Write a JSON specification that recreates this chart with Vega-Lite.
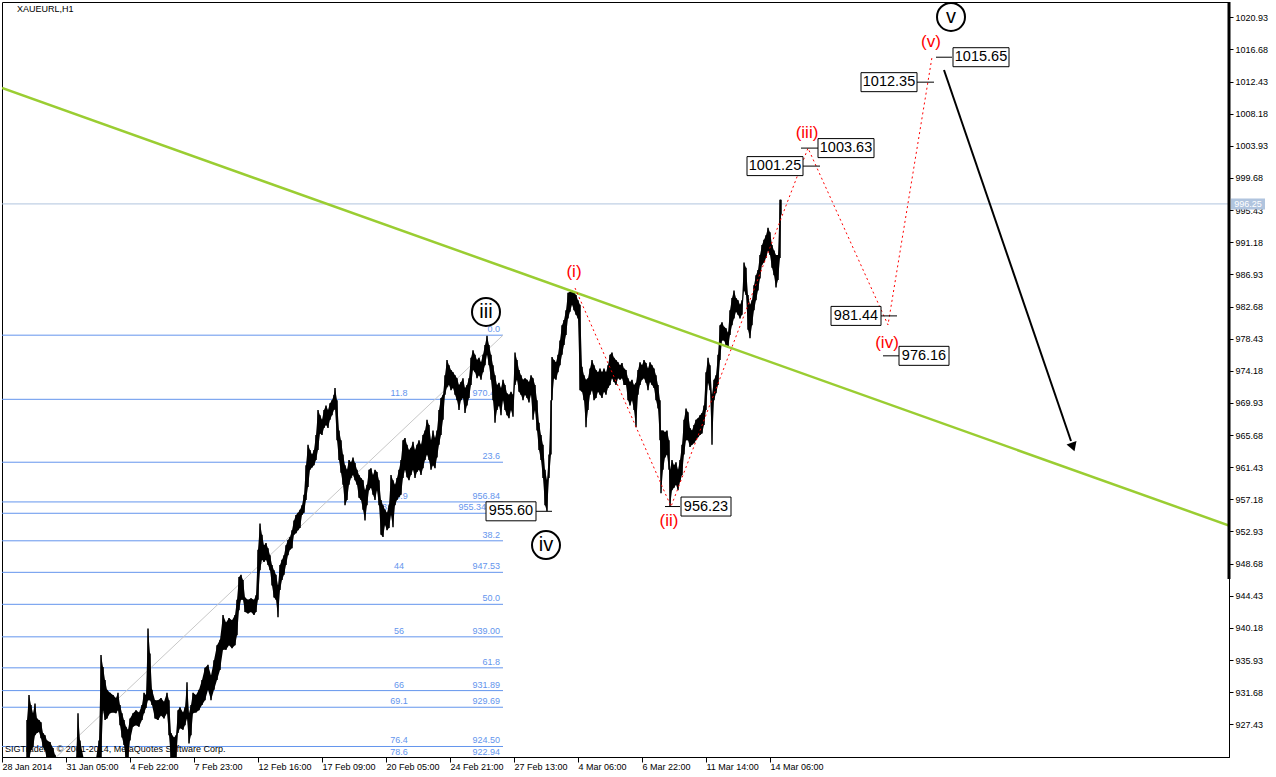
{
  "$schema": "https://vega.github.io/schema/vega-lite/v6.json",
  "width": 1227,
  "height": 755,
  "autosize": "none",
  "padding": {"left": 2, "top": 2, "right": 47, "bottom": 20},
  "background": "white",
  "config": {"view": {"stroke": "black", "strokeWidth": 1}, "font": "Liberation Sans"},
  "datasets": {
    "fib": [
      {"pct": "0.0", "price": 978.89, "priceLabel": null},
      {"pct": "11.8", "price": 970.41, "priceLabel": "970.41"},
      {"pct": "23.6", "price": 962.09, "priceLabel": null},
      {"pct": "30.9", "price": 956.84, "priceLabel": "956.84"},
      {"pct": "33", "price": 955.34, "priceLabel": "955.34"},
      {"pct": "38.2", "price": 951.70, "priceLabel": null},
      {"pct": "44", "price": 947.53, "priceLabel": "947.53"},
      {"pct": "50.0", "price": 943.30, "priceLabel": null},
      {"pct": "56", "price": 939.00, "priceLabel": "939.00"},
      {"pct": "61.8", "price": 934.90, "priceLabel": null},
      {"pct": "66", "price": 931.89, "priceLabel": "931.89"},
      {"pct": "69.1", "price": 929.69, "priceLabel": "929.69"},
      {"pct": "76.4", "price": 924.50, "priceLabel": "924.50"},
      {"pct": "78.6", "price": 922.94, "priceLabel": "922.94"}
    ],
    "fibBase": [{"bar": -67, "price": 907.71}, {"bar": 503, "price": 978.89}],
    "trend": [{"bar": 2, "price": 1011.58}, {"bar": 1229, "price": 953.72}],
    "path": [
      {"bar": 575, "price": 985.13},
      {"bar": 671, "price": 956.23},
      {"bar": 808, "price": 1003.63},
      {"bar": 888, "price": 980.24},
      {"bar": 932, "price": 1015.65}
    ],
    "arrow": [{"bar": 944, "price": 1013.96}, {"bar": 1071, "price": 964.9}],
    "arrowHead": [{"bar": 1073, "price": 964.1}],
    "boxes": [
      {"label": "955.60", "price": 955.60, "bar": 511, "from": 536, "to": 552},
      {"label": "956.23", "price": 956.23, "bar": 706, "from": 665, "to": 680},
      {"label": "1001.25", "price": 1001.25, "bar": 775, "from": 803, "to": 820},
      {"label": "1003.63", "price": 1003.63, "bar": 846, "from": 801, "to": 818},
      {"label": "1012.35", "price": 1012.35, "bar": 889, "from": 917, "to": 934},
      {"label": "1015.65", "price": 1015.65, "bar": 981, "from": 936, "to": 952},
      {"label": "981.44", "price": 981.44, "bar": 856, "from": 880, "to": 897},
      {"label": "976.16", "price": 976.16, "bar": 924, "from": 883, "to": 899}
    ],
    "minor": [
      {"label": "(i)", "bar": 574, "price": 987.25},
      {"label": "(ii)", "bar": 669, "price": 954.32},
      {"label": "(iii)", "bar": 807, "price": 1005.63},
      {"label": "(iv)", "bar": 887, "price": 977.86},
      {"label": "(v)", "bar": 931, "price": 1017.67}
    ],
    "major": [
      {"label": "iii", "bar": 486, "price": 981.96},
      {"label": "iv", "bar": 546, "price": 951.13},
      {"label": "v", "bar": 951, "price": 1020.97}
    ],
    "ohlc": [
      {"bar":27,"high":928.0,"low":922.7},{"bar":29,"high":931.3,"low":922.7},{"bar":31,"high":930.0,"low":924.0},{"bar":33,"high":928.9,"low":924.4},{"bar":35,"high":930.2,"low":926.0},{"bar":37,"high":928.2,"low":926.3},{"bar":39,"high":928.0,"low":926.4},{"bar":41,"high":927.7,"low":925.6},{"bar":43,"high":926.3,"low":924.4},{"bar":45,"high":926.0,"low":924.0},{"bar":47,"high":925.3,"low":922.7},{"bar":50,"high":925.1,"low":922.7},{"bar":53,"high":924.3,"low":922.1},{"bar":55,"high":923.4,"low":921.4},{"bar":60,"high":922.1,"low":920.1},{"bar":70,"high":922.1,"low":920.1},{"bar":76,"high":922.7,"low":920.7},{"bar":78,"high":928.9,"low":922.1},{"bar":80,"high":925.3,"low":920.7},{"bar":85,"high":922.1,"low":920.1},{"bar":95,"high":922.1,"low":920.1},{"bar":99,"high":925.3,"low":921.4},
      {"bar":101,"high":936.6,"low":922.7},{"bar":103,"high":935.0,"low":929.3},{"bar":105,"high":933.3,"low":928.0},{"bar":107,"high":932.0,"low":928.2},{"bar":110,"high":931.6,"low":928.9},{"bar":113,"high":931.3,"low":929.0},{"bar":116,"high":930.9,"low":928.9},{"bar":118,"high":931.6,"low":929.3},{"bar":120,"high":930.0,"low":927.3},{"bar":122,"high":928.9,"low":925.7},{"bar":124,"high":928.0,"low":924.7},{"bar":126,"high":927.1,"low":922.7},{"bar":128,"high":926.7,"low":922.7},{"bar":130,"high":928.2,"low":925.3},{"bar":133,"high":928.9,"low":927.1},{"bar":136,"high":929.3,"low":927.3},{"bar":139,"high":929.0,"low":927.1},{"bar":142,"high":930.0,"low":928.0},{"bar":144,"high":931.6,"low":928.9},{"bar":146,"high":931.3,"low":929.6},{"bar":148,"high":940.1,"low":930.6},{"bar":150,"high":936.8,"low":930.6},{"bar":152,"high":932.0,"low":930.0},{"bar":155,"high":930.6,"low":928.2},{"bar":158,"high":930.6,"low":928.0},{"bar":161,"high":930.9,"low":928.6},{"bar":164,"high":930.4,"low":928.2},{"bar":167,"high":931.6,"low":928.9},{"bar":169,"high":930.6,"low":926.0},{"bar":171,"high":926.3,"low":922.7},{"bar":174,"high":925.7,"low":922.7},{"bar":176,"high":926.0,"low":922.7},{"bar":178,"high":929.3,"low":926.3},{"bar":180,"high":929.7,"low":926.9},{"bar":183,"high":929.0,"low":926.7},{"bar":185,"high":929.7,"low":927.3},{"bar":187,"high":933.0,"low":928.2},{"bar":189,"high":928.9,"low":924.9},{"bar":191,"high":930.0,"low":926.0},{"bar":193,"high":931.6,"low":928.9},{"bar":196,"high":931.3,"low":929.0},{"bar":199,"high":932.0,"low":929.3},
      {"bar":202,"high":933.3,"low":930.0},{"bar":205,"high":934.9,"low":930.6},{"bar":208,"high":935.3,"low":932.0},{"bar":211,"high":933.9,"low":930.6},{"bar":214,"high":935.9,"low":932.0},{"bar":217,"high":937.9,"low":933.3},{"bar":220,"high":938.6,"low":934.6},{"bar":223,"high":941.9,"low":937.3},{"bar":226,"high":940.9,"low":937.3},{"bar":229,"high":941.5,"low":937.9},{"bar":232,"high":941.2,"low":937.5},{"bar":235,"high":941.9,"low":937.9},{"bar":237,"high":943.9,"low":939.2},{"bar":239,"high":946.9,"low":942.5},{"bar":241,"high":947.2,"low":943.9},{"bar":243,"high":946.5,"low":943.9},{"bar":245,"high":944.2,"low":942.3},{"bar":248,"high":943.9,"low":942.1},{"bar":251,"high":944.1,"low":942.3},{"bar":254,"high":943.9,"low":941.9},{"bar":256,"high":944.5,"low":942.3},{"bar":258,"high":950.5,"low":943.9},{"bar":260,"high":954.0,"low":947.8},{"bar":262,"high":952.5,"low":949.2},{"bar":264,"high":951.1,"low":948.9},{"bar":266,"high":951.4,"low":949.2},{"bar":268,"high":950.7,"low":948.5},{"bar":270,"high":949.8,"low":947.8},{"bar":272,"high":948.5,"low":945.8},{"bar":274,"high":947.8,"low":944.2},{"bar":276,"high":947.2,"low":943.9},{"bar":278,"high":945.8,"low":941.6},{"bar":280,"high":948.5,"low":945.2},{"bar":282,"high":949.2,"low":946.5},{"bar":284,"high":949.8,"low":947.2},{"bar":286,"high":951.1,"low":948.5},{"bar":288,"high":951.8,"low":949.8},{"bar":290,"high":952.2,"low":950.5},{"bar":292,"high":953.1,"low":950.7},{"bar":294,"high":954.4,"low":952.5},{"bar":296,"high":955.1,"low":952.7},{"bar":298,"high":955.4,"low":953.1},
      {"bar":300,"high":955.8,"low":953.4},{"bar":302,"high":956.4,"low":955.1},{"bar":304,"high":957.8,"low":955.4},{"bar":306,"high":961.7,"low":957.1},{"bar":308,"high":964.4,"low":958.8},{"bar":310,"high":963.7,"low":961.1},{"bar":312,"high":963.1,"low":961.4},{"bar":314,"high":963.7,"low":961.7},{"bar":316,"high":965.7,"low":962.4},{"bar":318,"high":969.0,"low":963.7},{"bar":320,"high":968.3,"low":965.9},{"bar":322,"high":967.7,"low":965.7},{"bar":324,"high":969.0,"low":966.6},{"bar":326,"high":969.6,"low":967.0},{"bar":328,"high":969.0,"low":966.6},{"bar":330,"high":969.9,"low":967.7},{"bar":332,"high":970.3,"low":968.3},{"bar":334,"high":971.0,"low":969.0},{"bar":335,"high":971.9,"low":969.2},{"bar":337,"high":970.3,"low":965.0},{"bar":339,"high":966.3,"low":962.4},{"bar":341,"high":965.0,"low":960.7},{"bar":343,"high":963.1,"low":959.1},{"bar":345,"high":961.7,"low":956.4},{"bar":347,"high":961.1,"low":957.1},{"bar":349,"high":962.4,"low":959.1},{"bar":351,"high":962.1,"low":960.0},{"bar":353,"high":962.7,"low":960.4},{"bar":355,"high":962.0,"low":959.7},{"bar":357,"high":961.1,"low":959.1},{"bar":359,"high":960.4,"low":957.4},{"bar":361,"high":960.0,"low":957.1},{"bar":363,"high":959.7,"low":955.8},{"bar":365,"high":958.4,"low":954.4},{"bar":367,"high":959.1,"low":956.4},{"bar":369,"high":961.1,"low":958.4},{"bar":371,"high":961.3,"low":958.7},{"bar":373,"high":960.4,"low":957.8},{"bar":375,"high":961.1,"low":957.1},{"bar":377,"high":960.8,"low":958.4},{"bar":379,"high":959.7,"low":956.4},{"bar":381,"high":957.1,"low":952.5},{"bar":383,"high":956.4,"low":952.2},{"bar":385,"high":955.8,"low":953.8},{"bar":387,"high":955.4,"low":953.1},{"bar":389,"high":956.4,"low":953.4},{"bar":391,"high":960.4,"low":955.1},{"bar":393,"high":959.7,"low":953.5},{"bar":395,"high":959.1,"low":956.4},{"bar":397,"high":960.0,"low":957.1},{"bar":399,"high":961.1,"low":957.5},
      {"bar":401,"high":962.4,"low":957.8},{"bar":403,"high":965.0,"low":960.0},{"bar":405,"high":965.3,"low":961.1},{"bar":407,"high":964.4,"low":960.1},{"bar":409,"high":963.7,"low":959.7},{"bar":411,"high":964.0,"low":960.4},{"bar":413,"high":964.8,"low":961.1},{"bar":415,"high":963.7,"low":960.0},{"bar":417,"high":964.4,"low":960.8},{"bar":419,"high":965.0,"low":961.1},{"bar":421,"high":964.4,"low":960.4},{"bar":423,"high":965.7,"low":961.3},{"bar":425,"high":966.3,"low":962.4},{"bar":427,"high":967.7,"low":963.1},{"bar":429,"high":967.0,"low":962.4},{"bar":431,"high":965.0,"low":961.1},{"bar":433,"high":966.3,"low":961.7},{"bar":435,"high":965.3,"low":961.3},{"bar":437,"high":966.3,"low":962.7},{"bar":439,"high":969.0,"low":964.4},{"bar":441,"high":970.6,"low":965.7},{"bar":443,"high":971.0,"low":967.7},{"bar":445,"high":973.6,"low":971.0},{"bar":447,"high":975.6,"low":972.0},{"bar":449,"high":974.9,"low":972.3},{"bar":451,"high":974.3,"low":971.6},{"bar":453,"high":974.0,"low":971.9},{"bar":455,"high":973.6,"low":971.0},{"bar":457,"high":973.2,"low":970.3},{"bar":459,"high":972.3,"low":969.0},{"bar":461,"high":972.7,"low":970.3},{"bar":463,"high":973.2,"low":970.6},{"bar":465,"high":971.9,"low":968.6},{"bar":467,"high":972.3,"low":969.6},{"bar":469,"high":973.2,"low":970.6},{"bar":471,"high":975.9,"low":972.3},{"bar":473,"high":976.9,"low":974.3},{"bar":475,"high":976.3,"low":974.0},{"bar":477,"high":975.6,"low":973.2},{"bar":479,"high":975.9,"low":973.6},{"bar":481,"high":975.3,"low":973.0},{"bar":483,"high":976.3,"low":974.0},{"bar":485,"high":977.6,"low":974.9},{"bar":487,"high":978.8,"low":976.3},{"bar":489,"high":977.6,"low":974.9},{"bar":491,"high":976.3,"low":973.0},{"bar":493,"high":974.9,"low":970.3},{"bar":495,"high":973.6,"low":967.3},{"bar":497,"high":972.3,"low":969.0},{"bar":499,"high":972.6,"low":969.6},
      {"bar":501,"high":971.9,"low":968.3},{"bar":503,"high":973.0,"low":970.3},{"bar":505,"high":972.3,"low":969.0},{"bar":507,"high":971.2,"low":968.3},{"bar":509,"high":971.0,"low":967.9},{"bar":511,"high":971.4,"low":969.0},{"bar":513,"high":971.0,"low":968.1},{"bar":515,"high":976.6,"low":972.3},{"bar":517,"high":975.6,"low":973.0},{"bar":519,"high":974.3,"low":971.4},{"bar":521,"high":973.6,"low":971.0},{"bar":523,"high":973.0,"low":970.3},{"bar":525,"high":973.2,"low":971.0},{"bar":527,"high":973.0,"low":970.6},{"bar":529,"high":972.7,"low":970.0},{"bar":531,"high":973.6,"low":971.0},{"bar":533,"high":973.2,"low":967.7},{"bar":535,"high":972.3,"low":969.0},{"bar":537,"high":970.3,"low":966.3},{"bar":539,"high":967.3,"low":963.7},{"bar":541,"high":965.7,"low":962.4},{"bar":543,"high":964.4,"low":960.0},{"bar":545,"high":961.1,"low":956.4},{"bar":547,"high":959.7,"low":955.6},{"bar":549,"high":963.1,"low":960.0},{"bar":551,"high":970.3,"low":963.1},{"bar":552,"high":976.0,"low":970.3},{"bar":554,"high":975.6,"low":973.2},{"bar":556,"high":975.3,"low":973.0},{"bar":558,"high":976.3,"low":974.0},{"bar":560,"high":978.2,"low":974.9},{"bar":562,"high":980.2,"low":976.3},{"bar":564,"high":980.9,"low":977.6},{"bar":566,"high":982.2,"low":978.9},{"bar":568,"high":984.5,"low":981.1},{"bar":570,"high":984.6,"low":982.0},{"bar":572,"high":984.8,"low":982.9},{"bar":574,"high":984.6,"low":982.2},{"bar":576,"high":984.2,"low":981.6},{"bar":578,"high":983.5,"low":981.1},{"bar":580,"high":982.9,"low":971.6},{"bar":582,"high":974.7,"low":971.4},{"bar":584,"high":973.6,"low":970.3},{"bar":586,"high":973.0,"low":966.7},{"bar":588,"high":973.2,"low":969.0},{"bar":590,"high":974.5,"low":971.0},{"bar":592,"high":975.6,"low":971.6},{"bar":594,"high":974.9,"low":970.3},{"bar":596,"high":974.3,"low":970.6},{"bar":598,"high":974.0,"low":971.4},
      {"bar":600,"high":974.5,"low":971.0},{"bar":602,"high":974.0,"low":970.6},{"bar":604,"high":974.5,"low":971.4},{"bar":606,"high":974.0,"low":971.0},{"bar":608,"high":974.9,"low":971.9},{"bar":610,"high":976.3,"low":972.3},{"bar":612,"high":976.6,"low":973.2},{"bar":614,"high":975.9,"low":972.7},{"bar":616,"high":975.6,"low":972.3},{"bar":618,"high":975.3,"low":973.2},{"bar":620,"high":974.9,"low":973.0},{"bar":622,"high":975.2,"low":973.2},{"bar":624,"high":974.5,"low":972.3},{"bar":626,"high":974.3,"low":972.3},{"bar":628,"high":973.2,"low":970.3},{"bar":630,"high":972.7,"low":969.6},{"bar":632,"high":973.0,"low":970.3},{"bar":634,"high":972.3,"low":969.0},{"bar":636,"high":972.6,"low":966.7},{"bar":638,"high":974.3,"low":971.0},{"bar":640,"high":975.3,"low":972.3},{"bar":642,"high":974.9,"low":973.0},{"bar":644,"high":975.6,"low":973.2},{"bar":646,"high":975.2,"low":972.6},{"bar":648,"high":974.5,"low":971.6},{"bar":650,"high":975.3,"low":972.7},{"bar":652,"high":974.9,"low":972.3},{"bar":654,"high":974.5,"low":971.9},{"bar":656,"high":973.6,"low":970.3},{"bar":658,"high":972.3,"low":969.2},{"bar":660,"high":970.3,"low":965.0},{"bar":661,"high":966.3,"low":958.0},{"bar":663,"high":966.3,"low":961.1},{"bar":665,"high":966.1,"low":962.7},{"bar":667,"high":966.3,"low":963.1},{"bar":669,"high":965.0,"low":961.1},{"bar":670,"high":961.1,"low":956.23},{"bar":672,"high":962.4,"low":958.4},{"bar":674,"high":961.7,"low":958.7},{"bar":676,"high":962.1,"low":959.1},{"bar":678,"high":961.1,"low":958.4},{"bar":680,"high":962.4,"low":959.5},{"bar":682,"high":964.4,"low":960.4},{"bar":684,"high":967.7,"low":963.1},{"bar":686,"high":969.2,"low":965.0},{"bar":688,"high":968.7,"low":965.0},{"bar":690,"high":966.6,"low":964.1},{"bar":692,"high":966.3,"low":964.4},{"bar":694,"high":967.0,"low":964.6},{"bar":696,"high":967.7,"low":965.0},{"bar":698,"high":967.9,"low":965.4},
      {"bar":700,"high":968.3,"low":965.7},{"bar":702,"high":968.6,"low":965.9},{"bar":704,"high":969.6,"low":967.0},{"bar":706,"high":974.0,"low":969.0},{"bar":708,"high":975.9,"low":972.6},{"bar":710,"high":974.9,"low":971.6},{"bar":712,"high":971.0,"low":964.4},{"bar":714,"high":973.0,"low":970.3},{"bar":716,"high":973.6,"low":971.2},{"bar":718,"high":976.3,"low":972.3},{"bar":720,"high":980.2,"low":975.6},{"bar":722,"high":980.6,"low":978.2},{"bar":724,"high":980.0,"low":978.2},{"bar":726,"high":979.8,"low":977.6},{"bar":728,"high":979.2,"low":977.2},{"bar":730,"high":982.2,"low":978.9},{"bar":732,"high":983.8,"low":980.2},{"bar":734,"high":984.8,"low":981.1},{"bar":736,"high":983.8,"low":982.0},{"bar":738,"high":983.5,"low":981.6},{"bar":740,"high":982.9,"low":981.1},{"bar":742,"high":983.5,"low":981.6},{"bar":744,"high":988.5,"low":984.8},{"bar":746,"high":987.8,"low":984.2},{"bar":748,"high":984.2,"low":979.6},{"bar":750,"high":982.9,"low":978.5},{"bar":752,"high":983.5,"low":980.2},{"bar":754,"high":985.5,"low":982.2},{"bar":756,"high":986.8,"low":983.5},{"bar":758,"high":987.5,"low":984.8},{"bar":760,"high":989.5,"low":986.4},{"bar":762,"high":990.8,"low":988.2},{"bar":764,"high":991.5,"low":988.5},{"bar":766,"high":992.1,"low":989.1},{"bar":768,"high":993.1,"low":990.1},{"bar":770,"high":992.5,"low":989.5},{"bar":772,"high":990.8,"low":987.8},{"bar":774,"high":990.1,"low":986.8},{"bar":776,"high":989.5,"low":985.2},{"bar":778,"high":989.5,"low":986.2},{"bar":780,"high":996.8,"low":989.1},{"bar":781,"high":996.8,"low":994.8}
    ]
  },
  "layer": [
    {
      "data": {"name": "fib"},
      "mark": {"type": "rule", "color": "#6495ED", "strokeWidth": 1, "clip": true},
      "encoding": {
        "x": {
          "datum": 2, "type": "quantitative",
          "scale": {"domain": [2, 1229], "nice": false, "zero": false},
          "axis": {
            "values": [2, 66, 130, 194, 258, 322, 386, 450, 514, 578, 642, 706, 770],
            "tickCount": 40,
            "labelExpr": "['28 Jan 2014','31 Jan 05:00','4 Feb 22:00','7 Feb 23:00','12 Feb 16:00','17 Feb 09:00','20 Feb 05:00','24 Feb 21:00','27 Feb 13:00','4 Mar 06:00','6 Mar 22:00','11 Mar 14:00','14 Mar 06:00'][round((datum.value-2)/64)]",
            "labelAlign": "left", "labelFont": "Liberation Sans", "labelFontSize": 9, "labelColor": "black",
            "labelPadding": 0, "labelFlush": false, "labelOverlap": false,
            "tickSize": 5, "tickColor": "black", "domainColor": "black", "grid": false, "title": null
          }
        },
        "x2": {"datum": 503},
        "y": {
          "field": "price", "type": "quantitative",
          "scale": {"domain": [923.11, 1022.95], "nice": false, "zero": false},
          "axis": {
            "orient": "right",
            "values": [927.43, 931.68, 935.93, 940.18, 944.43, 948.68, 952.93, 957.18, 961.43, 965.68, 969.93, 974.18, 978.43, 982.68, 986.93, 991.18, 995.43, 999.68, 1003.93, 1008.18, 1012.43, 1016.68, 1020.93],
            "tickCount": 40,
            "format": ".2f", "labelFont": "Liberation Sans", "labelFontSize": 9, "labelColor": "black",
            "labelPadding": 2, "labelFlush": false, "labelOverlap": false,
            "tickSize": 4, "tickColor": "black", "domainColor": "black", "grid": false, "title": null
          }
        }
      }
    },
    {
      "data": {"name": "fib"},
      "transform": [{"filter": "datum.priceLabel == null"}],
      "mark": {"type": "text", "color": "#6495ED", "font": "Liberation Sans", "fontSize": 9, "align": "right", "baseline": "bottom", "dy": -1},
      "encoding": {
        "x": {"datum": 500, "type": "quantitative"},
        "y": {"field": "price", "type": "quantitative"},
        "text": {"field": "pct"}
      }
    },
    {
      "data": {"name": "fib"},
      "transform": [{"filter": "datum.priceLabel != null && datum.pct != '33'"}],
      "mark": {"type": "text", "color": "#6495ED", "font": "Liberation Sans", "fontSize": 9, "align": "center", "baseline": "bottom", "dy": -1},
      "encoding": {
        "x": {"datum": 399, "type": "quantitative"},
        "y": {"field": "price", "type": "quantitative"},
        "text": {"field": "pct"}
      }
    },
    {
      "data": {"name": "fib"},
      "transform": [{"filter": "datum.pct == '33'"}],
      "mark": {"type": "text", "color": "#6495ED", "font": "Liberation Sans", "fontSize": 9, "align": "center", "baseline": "bottom", "dy": -1},
      "encoding": {
        "x": {"datum": 387, "type": "quantitative"},
        "y": {"field": "price", "type": "quantitative"},
        "text": {"field": "pct"}
      }
    },
    {
      "data": {"name": "fib"},
      "transform": [{"filter": "datum.priceLabel != null && datum.pct != '33'"}],
      "mark": {"type": "text", "color": "#6495ED", "font": "Liberation Sans", "fontSize": 9, "align": "right", "baseline": "bottom", "dy": -1},
      "encoding": {
        "x": {"datum": 500, "type": "quantitative"},
        "y": {"field": "price", "type": "quantitative"},
        "text": {"field": "priceLabel"}
      }
    },
    {
      "data": {"name": "fib"},
      "transform": [{"filter": "datum.pct == '33'"}],
      "mark": {"type": "text", "color": "#6495ED", "font": "Liberation Sans", "fontSize": 9, "align": "right", "baseline": "bottom", "dy": -1},
      "encoding": {
        "x": {"datum": 486, "type": "quantitative"},
        "y": {"field": "price", "type": "quantitative"},
        "text": {"field": "priceLabel"}
      }
    },
    {
      "data": {"name": "fibBase"},
      "mark": {"type": "line", "color": "#C8C8C8", "strokeWidth": 1, "clip": true},
      "encoding": {
        "x": {"field": "bar", "type": "quantitative"},
        "y": {"field": "price", "type": "quantitative"}
      }
    },
    {
      "data": {"values": [{"price": 996.25}]},
      "mark": {"type": "rule", "color": "#B0C4DE", "strokeWidth": 1},
      "encoding": {
        "x": {"datum": 2, "type": "quantitative"},
        "x2": {"datum": 1229},
        "y": {"field": "price", "type": "quantitative"}
      }
    },
    {
      "data": {"values": [{"t": "SIGTrader5, © 2001-2014, MetaQuotes Software Corp."}]},
      "mark": {"type": "text", "color": "black", "font": "Liberation Sans", "fontSize": 9, "align": "left", "baseline": "middle"},
      "encoding": {
        "x": {"datum": 5, "type": "quantitative"},
        "y": {"datum": 924.16, "type": "quantitative"},
        "text": {"field": "t"}
      }
    },
    {
      "data": {"values": [{"t": "XAUEURL,H1"}]},
      "mark": {"type": "text", "color": "black", "font": "Liberation Sans", "fontSize": 9, "align": "left", "baseline": "middle"},
      "encoding": {
        "x": {"datum": 17, "type": "quantitative"},
        "y": {"datum": 1021.96, "type": "quantitative"},
        "text": {"field": "t"}
      }
    },
    {
      "data": {"name": "ohlc"},
      "mark": {"type": "area", "color": "black", "clip": true, "interpolate": "linear"},
      "encoding": {
        "x": {"field": "bar", "type": "quantitative"},
        "y": {"field": "high", "type": "quantitative"},
        "y2": {"field": "low"}
      }
    },
    {
      "data": {"name": "ohlc"},
      "mark": {"type": "rule", "color": "black", "strokeWidth": 1.5, "clip": true},
      "encoding": {
        "x": {"field": "bar", "type": "quantitative"},
        "y": {"field": "high", "type": "quantitative"},
        "y2": {"field": "low"}
      }
    },
    {
      "data": {"name": "trend"},
      "mark": {"type": "line", "color": "#9ACD32", "strokeWidth": 2.5, "clip": true},
      "encoding": {
        "x": {"field": "bar", "type": "quantitative"},
        "y": {"field": "price", "type": "quantitative"}
      }
    },
    {
      "data": {"name": "path"},
      "mark": {"type": "line", "color": "#FF0000", "strokeWidth": 1, "strokeDash": [2, 3]},
      "encoding": {
        "x": {"field": "bar", "type": "quantitative"},
        "y": {"field": "price", "type": "quantitative"}
      }
    },
    {
      "data": {"name": "boxes"},
      "mark": {"type": "rule", "color": "black", "strokeWidth": 1},
      "encoding": {
        "x": {"field": "from", "type": "quantitative"},
        "x2": {"field": "to"},
        "y": {"field": "price", "type": "quantitative"}
      }
    },
    {
      "data": {"name": "boxes"},
      "transform": [{"filter": "length(datum.label) == 6"}],
      "mark": {"type": "rect", "width": 50, "height": 19, "fill": "white", "stroke": "black", "strokeWidth": 1},
      "encoding": {
        "x": {"field": "bar", "type": "quantitative"},
        "y": {"field": "price", "type": "quantitative"}
      }
    },
    {
      "data": {"name": "boxes"},
      "transform": [{"filter": "length(datum.label) == 7"}],
      "mark": {"type": "rect", "width": 56, "height": 19, "fill": "white", "stroke": "black", "strokeWidth": 1},
      "encoding": {
        "x": {"field": "bar", "type": "quantitative"},
        "y": {"field": "price", "type": "quantitative"}
      }
    },
    {
      "data": {"name": "boxes"},
      "mark": {"type": "text", "color": "black", "font": "Liberation Sans", "fontSize": 14.5, "align": "center", "baseline": "middle"},
      "encoding": {
        "x": {"field": "bar", "type": "quantitative"},
        "y": {"field": "price", "type": "quantitative"},
        "text": {"field": "label"}
      }
    },
    {
      "data": {"name": "minor"},
      "mark": {"type": "text", "color": "#FF0000", "font": "Liberation Sans", "fontSize": 17, "align": "center", "baseline": "middle"},
      "encoding": {
        "x": {"field": "bar", "type": "quantitative"},
        "y": {"field": "price", "type": "quantitative"},
        "text": {"field": "label"}
      }
    },
    {
      "data": {"name": "major"},
      "mark": {"type": "point", "shape": "circle", "size": 784, "filled": true, "fill": "white", "stroke": "black", "strokeWidth": 2, "opacity": 1},
      "encoding": {
        "x": {"field": "bar", "type": "quantitative"},
        "y": {"field": "price", "type": "quantitative"}
      }
    },
    {
      "data": {"name": "major"},
      "mark": {"type": "text", "color": "black", "font": "Liberation Sans", "fontSize": 20, "align": "center", "baseline": "middle"},
      "encoding": {
        "x": {"field": "bar", "type": "quantitative"},
        "y": {"field": "price", "type": "quantitative"},
        "text": {"field": "label"}
      }
    },
    {
      "data": {"name": "arrow"},
      "mark": {"type": "line", "color": "black", "strokeWidth": 2},
      "encoding": {
        "x": {"field": "bar", "type": "quantitative"},
        "y": {"field": "price", "type": "quantitative"}
      }
    },
    {
      "data": {"name": "arrowHead"},
      "mark": {"type": "point", "shape": "triangle-down", "size": 110, "filled": true, "color": "black", "opacity": 1, "angle": -19},
      "encoding": {
        "x": {"field": "bar", "type": "quantitative"},
        "y": {"field": "price", "type": "quantitative"}
      }
    },
    {
      "data": {"values": [{"top": 1022.95, "bottom": 946.65}]},
      "mark": {"type": "rule", "color": "black", "strokeWidth": 3},
      "encoding": {
        "x": {"datum": 1229, "type": "quantitative"},
        "y": {"field": "top", "type": "quantitative"},
        "y2": {"field": "bottom"}
      }
    },
    {
      "data": {"values": [{"price": 996.25, "label": "996.25"}]},
      "mark": {"type": "rect", "width": 34, "height": 11, "fill": "#B0C4DE"},
      "encoding": {
        "x": {"datum": 1248, "type": "quantitative"},
        "y": {"field": "price", "type": "quantitative"}
      }
    },
    {
      "data": {"values": [{"price": 996.25, "label": "996.25"}]},
      "mark": {"type": "text", "color": "white", "font": "Liberation Sans", "fontSize": 9, "align": "center", "baseline": "middle"},
      "encoding": {
        "x": {"datum": 1248, "type": "quantitative"},
        "y": {"field": "price", "type": "quantitative"},
        "text": {"field": "label"}
      }
    }
  ]
}
